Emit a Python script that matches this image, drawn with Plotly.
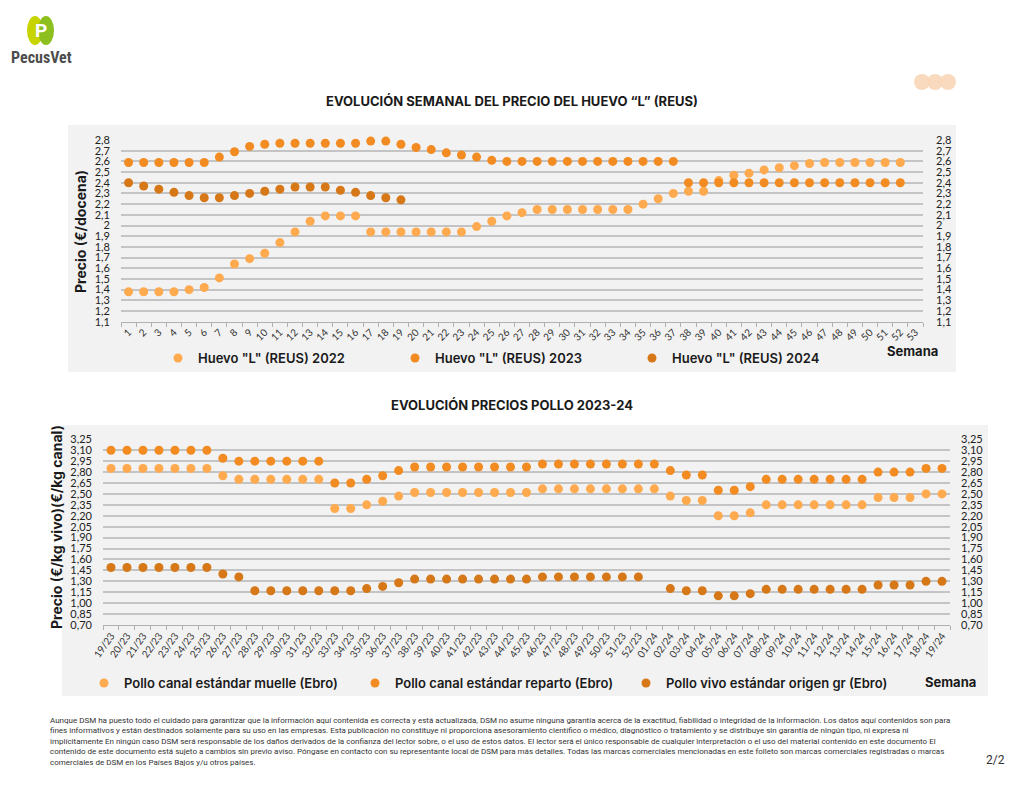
import plotly.graph_objects as go

W, H = 1024, 791

# ---------------- DATA ----------------
weeks = [str(i) for i in range(1, 54)]

huevo_2022 = [1.38, 1.38, 1.38, 1.38, 1.40, 1.42, 1.51, 1.64, 1.69, 1.74,
              1.84, 1.94, 2.04, 2.09, 2.09, 2.09, 1.94, 1.94, 1.94, 1.94,
              1.94, 1.94, 1.94, 1.99, 2.04, 2.09, 2.12, 2.15, 2.15, 2.15,
              2.15, 2.15, 2.15, 2.15, 2.20, 2.25, 2.30, 2.32, 2.32, 2.42,
              2.47, 2.49, 2.52, 2.54, 2.56, 2.58, 2.59, 2.59, 2.59, 2.59,
              2.59, 2.59, None]
huevo_2023 = [2.59, 2.59, 2.59, 2.59, 2.59, 2.59, 2.64, 2.69, 2.74, 2.76,
              2.77, 2.77, 2.77, 2.77, 2.77, 2.77, 2.79, 2.79, 2.76, 2.73,
              2.71, 2.68, 2.66, 2.64, 2.61, 2.60, 2.60, 2.60, 2.60, 2.60,
              2.60, 2.60, 2.60, 2.60, 2.60, 2.60, 2.60, 2.40, 2.40, 2.40,
              2.40, 2.40, 2.40, 2.40, 2.40, 2.40, 2.40, 2.40, 2.40, 2.40,
              2.40, 2.40, None]
huevo_2024 = [2.40, 2.37, 2.34, 2.31, 2.28, 2.26, 2.26, 2.28, 2.30, 2.32,
              2.34, 2.36, 2.36, 2.36, 2.33, 2.31, 2.28, 2.26, 2.24] + [None] * 34

semanas_pollo = ([f"{i}/23" for i in range(19, 53)] +
                 [f"{i:02d}/24" for i in range(1, 20)])

pollo_muelle = [2.85] * 7 + [2.75] + [2.70] * 6 + [2.30, 2.30, 2.35, 2.40, 2.47] + \
               [2.52] * 8 + [2.57] * 8 + [2.47, 2.41, 2.41, 2.20, 2.20, 2.24] + \
               [2.35] * 7 + [2.45, 2.45, 2.45, 2.50, 2.50]
pollo_reparto = [3.10] * 7 + [2.99] + [2.95] * 6 + [2.65, 2.65, 2.70, 2.75, 2.82] + \
                [2.87] * 8 + [2.91] * 8 + [2.82, 2.76, 2.76, 2.55, 2.55, 2.60] + \
                [2.70] * 7 + [2.80, 2.80, 2.80, 2.85, 2.85]
pollo_vivo = [1.49] * 7 + [1.40, 1.36] + [1.17] * 7 + [1.20, 1.23, 1.28] + \
             [1.33] * 8 + [1.36] * 7 + [None] + [1.20, 1.17, 1.17, 1.10, 1.10, 1.13] + \
             [1.19] * 7 + [1.25, 1.25, 1.25, 1.30, 1.30]

top_names = ['Huevo "L" (REUS) 2022', 'Huevo "L" (REUS) 2023', 'Huevo "L" (REUS) 2024']
bot_names = ['Pollo canal estándar muelle (Ebro)', 'Pollo canal estándar reparto (Ebro)',
             'Pollo vivo estándar origen gr (Ebro)']

C_LIGHT, C_MID, C_DARK = "#FFAA4F", "#F28C22", "#D67818"

# ---------------- FIGURE ----------------
def px(x):
    return x / W

def py(y):
    return 1 - y / H

fig = go.Figure()

for name, vals, col in zip(top_names, [huevo_2022, huevo_2023, huevo_2024], [C_LIGHT, C_MID, C_DARK]):
    fig.add_trace(go.Scatter(x=weeks, y=vals, mode="markers", name=name,
                             marker=dict(size=9, color=col), cliponaxis=False,
                             xaxis="x", yaxis="y", legend="legend"))
for name, vals, col in zip(bot_names, [pollo_muelle, pollo_reparto, pollo_vivo], [C_LIGHT, C_MID, C_DARK]):
    fig.add_trace(go.Scatter(x=semanas_pollo, y=vals, mode="markers", name=name,
                             marker=dict(size=9, color=col), cliponaxis=False,
                             xaxis="x2", yaxis="y2", legend="legend2"))

# helper invisible traces so the right-side axes render
fig.add_trace(go.Scatter(x=weeks[:1], y=[None], xaxis="x", yaxis="y3", showlegend=False,
                         hoverinfo="skip"))
fig.add_trace(go.Scatter(x=semanas_pollo[:1], y=[None], xaxis="x2", yaxis="y4", showlegend=False,
                         hoverinfo="skip"))

tickfont = dict(family="Lato", size=11, color="#222")
xtickfont = dict(family="Lato", size=10, color="#333")
grid = "#c4c4c4"

top_dom_x = [px(121), px(923)]
top_dom_y = [py(321.7), py(140)]
bot_dom_x = [px(103), px(950)]
bot_dom_y = [py(625), py(439.3)]

legfont = dict(family="Inter", size=13, color="#1a1a1a", weight=600)

fig.update_layout(
    template="none",
    width=W, height=H, margin=dict(l=0, r=0, t=0, b=0, pad=0),
    paper_bgcolor="white", plot_bgcolor="rgba(0,0,0,0)",
    separators=",.", showlegend=True,
    xaxis=dict(domain=top_dom_x, type="category", range=[-0.5, 52.5], anchor="y",
               automargin=False, showline=True, linecolor="#b0b0b0", linewidth=1,
               ticks="outside", tickson="boundaries", ticklen=4, tickcolor="#b0b0b0",
               tickangle=-45, tickfont=xtickfont, showgrid=False, zeroline=False),
    yaxis=dict(domain=top_dom_y, range=[1.1, 2.8], tick0=1.1, dtick=0.1, anchor="x",
               automargin=False, showgrid=True, gridcolor=grid, gridwidth=1.5,
               zeroline=False, showline=False, ticks="", tickfont=tickfont,
               ticklabelstandoff=10),
    yaxis3=dict(overlaying="y", side="right", range=[1.1, 2.8], tick0=1.1, dtick=0.1,
                anchor="x", automargin=False, showgrid=False, zeroline=False,
                showline=False, ticks="", tickfont=tickfont, ticklabelstandoff=12),
    xaxis2=dict(domain=bot_dom_x, type="category", range=[-0.5, 52.5], anchor="y2",
                automargin=False, showline=True, linecolor="#b0b0b0", linewidth=1,
                ticks="outside", tickson="boundaries", ticklen=4, tickcolor="#b0b0b0",
                tickangle=-55, tickfont=xtickfont, showgrid=False, zeroline=False),
    yaxis2=dict(domain=bot_dom_y, range=[0.70, 3.25], tick0=0.70, dtick=0.15, anchor="x2",
                automargin=False, tickformat=".2f", showgrid=True, gridcolor=grid,
                gridwidth=1.5, zeroline=False, showline=False, ticks="",
                tickfont=tickfont, ticklabelstandoff=10),
    yaxis4=dict(overlaying="y2", side="right", range=[0.70, 3.25], tick0=0.70, dtick=0.15,
                anchor="x2", automargin=False, tickformat=".2f", showgrid=False,
                zeroline=False, showline=False, ticks="", tickfont=tickfont,
                ticklabelstandoff=10),
    legend=dict(orientation="h", x=px(158), y=py(358), xanchor="left", yanchor="middle",
                entrywidth=192, entrywidthmode="pixels", bgcolor="rgba(0,0,0,0)",
                font=legfont, itemclick=False, itemdoubleclick=False),
    legend2=dict(orientation="h", x=px(84), y=py(683), xanchor="left", yanchor="middle",
                 entrywidth=226, entrywidthmode="pixels", bgcolor="rgba(0,0,0,0)",
                 font=legfont, itemclick=False, itemdoubleclick=False),
)

shapes = [
    dict(type="rect", xref="paper", yref="paper", x0=px(68), x1=px(956), y0=py(372), y1=py(125),
         fillcolor="#f2f2f2", line=dict(width=0), layer="below"),
    dict(type="rect", xref="paper", yref="paper", x0=px(62), x1=px(988), y0=py(696), y1=py(425),
         fillcolor="#f2f2f2", line=dict(width=0), layer="below"),
    # logo icon
    dict(type="circle", xref="paper", yref="paper", x0=px(27), x1=px(43), y0=py(45), y1=py(16),
         fillcolor="#C8D400", line=dict(width=0)),
    dict(type="circle", xref="paper", yref="paper", x0=px(38), x1=px(54), y0=py(45), y1=py(16),
         fillcolor="#8DBF1F", line=dict(width=0)),
]
for cx in (922, 935, 948):
    shapes.append(dict(type="circle", xref="paper", yref="paper",
                       x0=px(cx - 8), x1=px(cx + 8), y0=py(90), y1=py(74),
                       fillcolor="#F8D6B8", line=dict(width=0), opacity=0.9))
fig.update_layout(shapes=shapes)

footer = ("Aunque DSM ha puesto todo el cuidado para garantizar que la información aquí contenida es correcta y está actualizada, DSM no asume ninguna garantía acerca de la exactitud, fiabilidad o integridad de la información. Los datos aquí contenidos son para<br>"
          "fines informativos y están destinados solamente para su uso en las empresas. Esta publicación no constituye ni proporciona asesoramiento científico o médico, diagnóstico o tratamiento y se distribuye sin garantía de ningún tipo, ni expresa ni<br>"
          "implícitamente En ningún caso DSM será responsable de los daños derivados de la confianza del lector sobre, o el uso de estos datos. El lector será el único responsable de cualquier interpretación o el uso del material contenido en este documento El<br>"
          "contenido de este documento está sujeto a cambios sin previo aviso. Póngase en contacto con su representante local de DSM para más detalles. Todas las marcas comerciales mencionadas en este folleto son marcas comerciales registradas o marcas<br>"
          "comerciales de DSM en los Países Bajos y/u otros países.")

title_font = dict(family="Inter", size=13, color="#1a1a1a")
ann = [
    dict(x=px(40.5), y=py(31), text="<b>P</b>", font=dict(family="Roboto", size=19, color="white")),
    dict(x=px(41), y=py(58), text="<b>PecusVet</b>",
         font=dict(family="Roboto Condensed, Roboto", size=16, color="#4d4d4d")),
    dict(x=px(512), y=py(101), text="<b>EVOLUCIÓN SEMANAL DEL PRECIO DEL HUEVO “L” (REUS)</b>",
         font=title_font),
    dict(x=px(512), y=py(405), text="<b>EVOLUCIÓN PRECIOS POLLO 2023-24</b>", font=title_font),
    dict(x=px(81), y=py(232), text="<b>Precio (€/docena)</b>", textangle=-90,
         font=dict(family="Inter", size=14, color="#1a1a1a")),
    dict(x=px(56), y=py(527), text="<b>Precio (€/kg vivo)(€/kg canal)</b>", textangle=-90,
         font=dict(family="Inter", size=14, color="#1a1a1a")),
    dict(x=px(912), y=py(351), text="<b>Semana</b>", font=legfont),
    dict(x=px(950), y=py(682), text="<b>Semana</b>", font=legfont),
    dict(x=px(48), y=py(741), text=footer, xanchor="left", align="left",
         font=dict(family="Roboto", size=8, color="#333")),
    dict(x=px(995), y=py(760), text="2/2", font=dict(family="Roboto", size=12, color="#333")),
]
for a in ann:
    a.setdefault("xref", "paper")
    a.setdefault("yref", "paper")
    a.setdefault("showarrow", False)
    a.setdefault("xanchor", "center")
    a.setdefault("yanchor", "middle")
fig.update_layout(annotations=ann)

fig.write_html("out.html", config={"displayModeBar": False},
               post_script="document.body.style.margin='0';")
